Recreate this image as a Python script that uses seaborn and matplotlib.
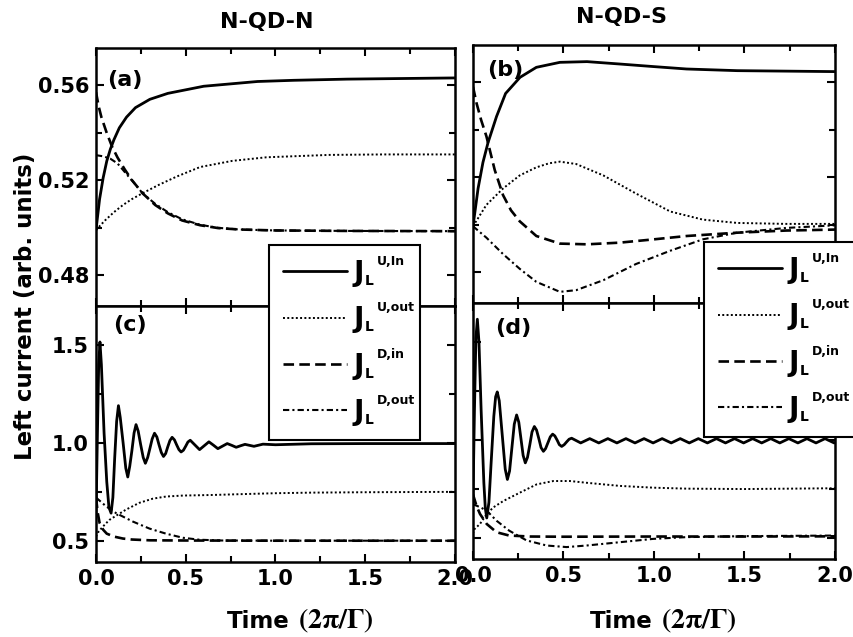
import matplotlib
matplotlib.use("Agg")
import matplotlib.pyplot as plt
import seaborn as sns
from matplotlib.ticker import MultipleLocator

sns.set_style("ticks")
plt.rcParams["font.family"] = ["DejaVu Sans"]
plt.rcParams["font.weight"] = "bold"
plt.rcParams["mathtext.fontset"] = "stix"
plt.rcParams.update({"text.color": "black", "axes.labelcolor": "black", "xtick.color": "black",
                     "ytick.color": "black", "axes.edgecolor": "black"})

# ---------------- data ----------------
panel_titles = ["N-QD-N", "N-QD-S"]
panel_tags = ["(a)", "(b)", "(c)", "(d)"]
series_keys = ["uin", "uout", "din", "dout"]
legend_sups = ["U,In", "U,out", "D,in", "D,out"]
x_ticks = [0.0, 0.5, 1.0, 1.5, 2.0]

# (a) N-QD-N, upper
a_t_uin = [0, 0.02, 0.04, 0.06, 0.08, 0.10, 0.13, 0.17, 0.22, 0.30, 0.40, 0.50, 0.60, 0.75, 0.90, 1.10, 1.40, 2.00]
a_uin = [0.499, 0.512, 0.521, 0.528, 0.533, 0.537, 0.542, 0.5465, 0.5505, 0.554, 0.5565, 0.558, 0.5595, 0.5605, 0.5615, 0.562, 0.5625, 0.563]
a_t_uout = [0, 0.05, 0.10, 0.15, 0.20, 0.26, 0.35, 0.45, 0.58, 0.76, 0.95, 1.30, 1.60, 2.00]
a_uout = [0.499, 0.503, 0.5065, 0.5095, 0.512, 0.5145, 0.518, 0.5215, 0.5255, 0.5281, 0.5296, 0.5306, 0.5308, 0.5308]
a_t_din = [0, 0.015, 0.03, 0.06, 0.09, 0.12, 0.16, 0.20, 0.26, 0.33, 0.40, 0.48, 0.58, 0.68, 0.80, 1.00, 1.40, 2.00]
a_din = [0.557, 0.551, 0.5465, 0.5398, 0.534, 0.5295, 0.5245, 0.520, 0.5144, 0.5095, 0.506, 0.503, 0.501, 0.4998, 0.4992, 0.4988, 0.4986, 0.4985]
a_t_dout = [0, 0.04, 0.08, 0.12, 0.17, 0.21, 0.26, 0.33, 0.40, 0.48, 0.58, 0.68, 0.80, 1.00, 1.40, 2.00]
a_dout = [0.5305, 0.530, 0.529, 0.527, 0.5225, 0.519, 0.5144, 0.510, 0.5065, 0.5035, 0.5012, 0.4999, 0.4992, 0.4988, 0.4986, 0.4985]

# (b) N-QD-S, upper
b_t_uin = [0, 0.028, 0.055, 0.083, 0.13, 0.18, 0.26, 0.35, 0.48, 0.63, 0.81, 1.00, 1.18, 1.46, 1.73, 2.00]
b_uin = [0.4993, 0.5152, 0.5262, 0.5345, 0.5455, 0.5552, 0.562, 0.5662, 0.5683, 0.5686, 0.5676, 0.5665, 0.5655, 0.5648, 0.5646, 0.5644]
b_t_uout = [0, 0.074, 0.166, 0.258, 0.35, 0.42, 0.48, 0.57, 0.72, 0.90, 1.09, 1.27, 1.46, 1.73, 2.00]
b_uout = [0.4993, 0.5083, 0.5152, 0.5207, 0.5241, 0.5258, 0.5265, 0.5255, 0.5207, 0.5131, 0.5055, 0.5021, 0.5007, 0.5003, 0.5003]
b_t_din = [0, 0.02, 0.045, 0.074, 0.12, 0.166, 0.21, 0.258, 0.35, 0.48, 0.63, 0.81, 1.00, 1.18, 1.46, 1.73, 2.00]
b_din = [0.558, 0.551, 0.544, 0.5372, 0.523, 0.5124, 0.506, 0.5014, 0.4952, 0.492, 0.4917, 0.4924, 0.4938, 0.4952, 0.4966, 0.4975, 0.4979]
b_t_dout = [0, 0.074, 0.166, 0.258, 0.35, 0.48, 0.57, 0.72, 0.90, 1.09, 1.27, 1.46, 1.73, 2.00]
b_dout = [0.4993, 0.4945, 0.4876, 0.4814, 0.4759, 0.4717, 0.4724, 0.4766, 0.4834, 0.489, 0.4938, 0.4966, 0.4986, 0.4997]

# (c) N-QD-N, lower
c_t_uin = [0, 0.008, 0.015, 0.022, 0.03, 0.045, 0.06, 0.072, 0.084, 0.094, 0.104, 0.115, 0.125, 0.135,
           0.151, 0.166, 0.177, 0.188, 0.200, 0.212, 0.223, 0.235, 0.249, 0.263, 0.275, 0.288, 0.300,
           0.313, 0.326, 0.339, 0.351, 0.364, 0.376, 0.388, 0.400, 0.412, 0.424, 0.437, 0.449, 0.462,
           0.474, 0.487, 0.500, 0.512, 0.525, 0.551, 0.577, 0.603, 0.629, 0.654, 0.679, 0.705, 0.731,
           0.756, 0.781, 0.806, 0.830, 0.855, 0.880, 0.930, 1.00, 1.20, 1.50, 2.00]
c_uin = [0.62, 1.05, 1.40, 1.516, 1.40, 1.05, 0.80, 0.67, 0.64, 0.72, 0.92, 1.11, 1.19, 1.13,
         1.00, 0.87, 0.825, 0.88, 0.96, 1.05, 1.093, 1.06, 0.99, 0.925, 0.895, 0.925, 0.97,
         1.02, 1.049, 1.03, 0.99, 0.95, 0.93, 0.945, 0.98, 1.012, 1.028, 1.015, 0.99, 0.965,
         0.953, 0.962, 0.983, 1.004, 1.013, 0.989, 0.965, 0.985, 1.005, 0.988, 0.97, 0.983, 0.996,
         0.987, 0.977, 0.985, 0.992, 0.987, 0.982, 0.993, 0.99, 0.995, 0.996, 0.996]
c_t_uout = [0, 0.01, 0.037, 0.074, 0.121, 0.167, 0.242, 0.316, 0.39, 0.484, 0.65, 0.80, 1.00, 1.20, 1.50, 2.00]
c_uout = [0.52, 0.54, 0.57, 0.605, 0.632, 0.658, 0.693, 0.714, 0.725, 0.73, 0.733, 0.737, 0.742, 0.745, 0.747, 0.749]
c_t_din = [0, 0.01, 0.02, 0.04, 0.06, 0.10, 0.15, 0.20, 0.30, 0.50, 1.00, 2.00]
c_din = [0.72, 0.64, 0.59, 0.555, 0.535, 0.52, 0.51, 0.505, 0.501, 0.50, 0.499, 0.499]
c_t_dout = [0, 0.056, 0.112, 0.205, 0.298, 0.39, 0.484, 0.577, 0.70, 1.00, 1.50, 2.00]
c_dout = [0.72, 0.675, 0.64, 0.597, 0.561, 0.535, 0.514, 0.504, 0.50, 0.499, 0.499, 0.499]

# (d) N-QD-S, lower
d_t_uin = [0, 0.008, 0.016, 0.024, 0.033, 0.045, 0.06, 0.068, 0.076, 0.088, 0.10, 0.115, 0.125, 0.134,
           0.145, 0.162, 0.178, 0.19, 0.202, 0.215, 0.228, 0.241, 0.253, 0.265, 0.277, 0.289, 0.301,
           0.314, 0.326, 0.339, 0.351, 0.364, 0.376, 0.389, 0.401, 0.414, 0.427, 0.44, 0.452, 0.465,
           0.477, 0.49, 0.504, 0.518, 0.531, 0.545, 0.57, 0.595, 0.62, 0.645, 0.67, 0.695, 0.72, 0.745,
           0.77, 0.795, 0.82, 0.845, 0.87, 0.895, 0.92, 0.945, 0.97, 0.995, 1.02, 1.045, 1.07, 1.095,
           1.12, 1.145, 1.17, 1.195, 1.22, 1.245, 1.27, 1.295, 1.32, 1.345, 1.37, 1.395, 1.42, 1.445,
           1.47, 1.495, 1.52, 1.545, 1.57, 1.595, 1.62, 1.645, 1.67, 1.695, 1.72, 1.745, 1.77, 1.795,
           1.82, 1.845, 1.87, 1.895, 1.92, 1.945, 1.97, 1.995, 2.0]
d_uin = [0.70, 1.15, 1.52, 1.617, 1.50, 1.15, 0.78, 0.65, 0.60, 0.68, 0.88, 1.12, 1.22, 1.245,
         1.20, 1.02, 0.85, 0.797, 0.84, 0.96, 1.08, 1.127, 1.09, 1.005, 0.92, 0.882, 0.91,
         0.975, 1.04, 1.068, 1.05, 1.005, 0.96, 0.941, 0.955, 0.985, 1.015, 1.029, 1.02, 0.998,
         0.975, 0.966, 0.975, 0.99, 1.003, 1.008, 0.996, 0.984, 0.995, 1.006, 0.995, 0.984, 0.995, 1.006,
         0.995, 0.984, 0.995, 1.006, 0.995, 0.984, 0.995, 1.006, 0.995, 0.984, 0.995, 1.006, 0.995, 0.984,
         0.995, 1.006, 0.995, 0.984, 0.995, 1.006, 0.995, 0.984, 0.995, 1.006, 0.995, 0.984, 0.995, 1.006,
         0.995, 0.984, 0.995, 1.006, 0.995, 0.984, 0.995, 1.006, 0.995, 0.984, 0.995, 1.006, 0.995, 0.984,
         0.995, 1.006, 0.995, 0.984, 0.995, 1.006, 0.995, 0.984, 0.986]
d_t_uout = [0, 0.005, 0.039, 0.076, 0.112, 0.168, 0.26, 0.352, 0.444, 0.536, 0.628, 0.812, 0.996, 1.18, 1.50, 2.00]
d_uout = [0.52, 0.54, 0.57, 0.62, 0.654, 0.687, 0.73, 0.772, 0.789, 0.789, 0.78, 0.764, 0.755, 0.75, 0.748, 0.752]
d_t_din = [0, 0.02, 0.039, 0.076, 0.13, 0.20, 0.315, 0.50, 1.00, 1.50, 2.00]
d_din = [0.72, 0.66, 0.62, 0.569, 0.527, 0.51, 0.505, 0.504, 0.505, 0.505, 0.506]
d_t_dout = [0, 0.04, 0.076, 0.13, 0.20, 0.296, 0.407, 0.517, 0.628, 0.812, 0.996, 1.18, 1.50, 2.00]
d_dout = [0.67, 0.655, 0.637, 0.586, 0.535, 0.485, 0.459, 0.451, 0.459, 0.476, 0.493, 0.502, 0.507, 0.51]

panels = {
    "a": [(a_t_uin, a_uin), (a_t_uout, a_uout), (a_t_din, a_din), (a_t_dout, a_dout)],
    "b": [(b_t_uin, b_uin), (b_t_uout, b_uout), (b_t_din, b_din), (b_t_dout, b_dout)],
    "c": [(c_t_uin, c_uin), (c_t_uout, c_uout), (c_t_din, c_din), (c_t_dout, c_dout)],
    "d": [(d_t_uin, d_uin), (d_t_uout, d_uout), (d_t_din, d_din), (d_t_dout, d_dout)],
}

STYLES = {
    "uin": dict(linestyle="-", linewidth=2.0),
    "uout": dict(linestyle=(0, (1, 1.2)), linewidth=1.4),
    "din": dict(linestyle=(0, (4, 2)), linewidth=1.9),
    "dout": dict(linestyle=(0, (3, 1.5, 1, 1.5)), linewidth=1.5),
}

# ---------------- figure ----------------
W, H = 854, 637
fig = plt.figure(figsize=(W / 100, H / 100), dpi=100)
fig.patch.set_facecolor("white")


def fr(x0, y_top, x1, y_bot):
    return [x0 / W, 1 - y_bot / H, (x1 - x0) / W, (y_bot - y_top) / H]


axes = {
    "a": fig.add_axes(fr(96, 48, 455, 306)),
    "c": fig.add_axes(fr(96, 306, 455, 562)),
    "b": fig.add_axes(fr(473, 45, 835, 303)),
    "d": fig.add_axes(fr(473, 303, 835, 559)),
}

for key, ax in axes.items():
    for (t, v), sk in zip(panels[key], series_keys):
        sns.lineplot(x=t, y=v, ax=ax, color="black", sort=False, estimator=None,
                     legend=False, **STYLES[sk])
    ax.set_xlim(0, 2.0)
    if key in "ab":
        ax.set_ylim(0.467, 0.5756)
        ax.yaxis.set_major_locator(MultipleLocator(0.04))
        ax.yaxis.set_minor_locator(MultipleLocator(0.02))
    else:
        ax.set_ylim(0.39, 1.70)
        ax.yaxis.set_major_locator(MultipleLocator(0.5))
        ax.yaxis.set_minor_locator(MultipleLocator(0.25))
    ax.set_xticks(x_ticks)
    ax.xaxis.set_minor_locator(MultipleLocator(0.25))
    ax.tick_params(which="both", direction="in", top=True, right=True, width=1.5,
                   labelsize=15, pad=5, colors="black")
    ax.tick_params(which="major", length=6)
    ax.tick_params(which="minor", length=4)
    for s in ax.spines.values():
        s.set_linewidth(1.8)
        s.set_color("black")
    ax.set_xlabel("")
    ax.set_ylabel("")
    for lab in ax.get_xticklabels() + ax.get_yticklabels():
        lab.set_fontweight("bold")
    if key in "ab":
        ax.tick_params(labelbottom=False)
    if key in "bd":
        ax.tick_params(labelleft=False)

tag_pos = {"a": (0.03, 0.915), "b": (0.039, 0.94), "c": (0.047, 0.965), "d": (0.061, 0.94)}
for key, tag in zip("abcd", panel_tags):
    axes[key].text(*tag_pos[key], tag, transform=axes[key].transAxes, fontsize=16,
                   fontweight="bold", ha="left", va="top")

fig.text(267 / W, 1 - 22 / H, panel_titles[0], fontsize=16, fontweight="bold", ha="center", va="center")
fig.text(622 / W, 1 - 17 / H, panel_titles[1], fontsize=16, fontweight="bold", ha="center", va="center")
fig.text(26 / W, 1 - 306 / H, "Left current (arb. units)", rotation=90, fontsize=16.5,
         fontweight="bold", ha="center", va="center")
for x_time, x_math in [(227, 298), (590, 661)]:
    fig.text(x_time / W, 1 - 628 / H, "Time", fontsize=16.5, fontweight="bold",
             ha="left", va="baseline")
    fig.text(x_math / W, 1 - 628 / H, r"$\mathbf{(2\pi/\Gamma)}$", fontsize=20,
             ha="left", va="baseline")

# legends
handles = axes["a"].get_lines()[:4]
legs = []
for (x0, ytop, x1) in [(269, 245, 420), (704, 242, 875)]:
    leg = fig.legend(handles, ["J"] * 4, loc="upper left",
                     bbox_to_anchor=(x0 / W, 1 - ytop / H, (x1 - x0) / W, 0),
                     mode="expand", borderaxespad=0, fontsize=20, handlelength=2.3,
                     handletextpad=0.25, labelspacing=0.66, borderpad=0.5,
                     fancybox=False, framealpha=1, edgecolor="black")
    leg.get_frame().set_linewidth(1.5)
    for t in leg.get_texts():
        t.set_color("black")
    legs.append(leg)

fig.canvas.draw()
r = fig.canvas.get_renderer()
for leg in legs:
    for txt, sup in zip(leg.get_texts(), legend_sups):
        bb = txt.get_window_extent(r)
        _, _, d = r.get_text_width_height_descent("lp", txt.get_fontproperties(), ismath=False)
        base = bb.y0 + d
        fig.text((bb.x1 + 13) / W, (base + 16) / H, sup, fontsize=9, fontweight="bold",
                 ha="left", va="baseline", zorder=10)
        fig.text((bb.x1 + 1) / W, (base - 4) / H, "L", fontsize=10, fontweight="bold",
                 ha="left", va="baseline", zorder=10)

fig.savefig("out.png", dpi=100)
